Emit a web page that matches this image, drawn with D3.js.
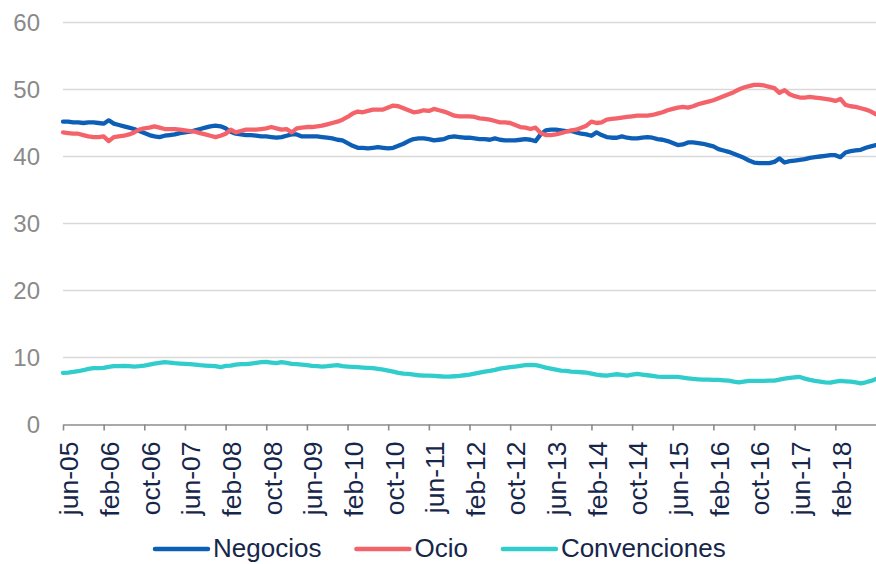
<!DOCTYPE html>
<html>
<head>
<meta charset="utf-8">
<script src="https://cdn.jsdelivr.net/npm/d3@7"></script>
<style>
  body { margin: 0; background: #fff; }
  svg { display: block; font-family: "Liberation Sans", Arial, sans-serif; }
</style>
</head>
<body>
<div id="chart"></div>
<script>
// month names used to build the category labels
var monthNames = ["ene", "feb", "mar", "abr", "may", "jun", "jul", "ago", "sep", "oct", "nov", "dic"];

// monthly categories jun-05 .. oct-18
var categories = d3.timeMonths(new Date(2005, 5, 1), new Date(2018, 10, 1)).map(function(d) {
    return monthNames[d.getMonth()] + "-" + String(d.getFullYear()).slice(2);
});

var tickLabels = ["jun-05", "feb-06", "oct-06", "jun-07", "feb-08", "oct-08", "jun-09", "feb-10",
    "oct-10", "jun-11", "feb-12", "oct-12", "jun-13", "feb-14", "oct-14", "jun-15", "feb-16",
    "oct-16", "jun-17", "feb-18"];

var yTicks = [0, 10, 20, 30, 40, 50, 60];

var negocios = [
    45.2, 45.2, 45.1, 45.1, 45.0, 45.1, 45.1, 45.0, 44.9, 45.4,
    44.9, 44.7, 44.5, 44.3, 44.1, 43.8, 43.5, 43.2, 43.0, 42.9,
    43.1, 43.2, 43.3, 43.5, 43.6, 43.7, 43.9, 44.1, 44.3, 44.5,
    44.6, 44.5, 44.2, 43.7, 43.4, 43.3, 43.2, 43.2, 43.1, 43.0,
    43.0, 42.9, 42.8, 42.9, 43.1, 43.3, 43.3, 43.0, 43.0, 43.0,
    43.0, 42.9, 42.8, 42.7, 42.5, 42.4, 42.0, 41.6, 41.3, 41.3,
    41.2, 41.3, 41.4, 41.3, 41.2, 41.3, 41.6, 41.9, 42.3, 42.6,
    42.7, 42.7, 42.6, 42.4, 42.5, 42.6, 42.9, 43.0, 42.9, 42.8,
    42.8, 42.7, 42.6, 42.6, 42.5, 42.7, 42.5, 42.4, 42.4, 42.4,
    42.5, 42.6, 42.5, 42.3, 43.3, 43.9, 44.0, 44.0, 43.9, 43.8,
    43.8, 43.6, 43.4, 43.3, 43.1, 43.6, 43.2, 42.9, 42.8, 42.8,
    43.0, 42.8, 42.7, 42.7, 42.8, 42.9, 42.8, 42.6, 42.5, 42.3,
    42.0, 41.7, 41.8, 42.1, 42.1, 42.0, 41.9, 41.7, 41.5, 41.1,
    40.9, 40.7, 40.4, 40.1, 39.8, 39.4, 39.1, 39.0, 39.0, 39.0,
    39.2, 39.7, 39.1, 39.3, 39.4, 39.5, 39.6, 39.8, 39.9, 40.0,
    40.1, 40.2, 40.2, 39.9, 40.6, 40.8, 40.9, 41.0, 41.3, 41.5,
    41.7
];

var ocio = [
    43.6, 43.5, 43.4, 43.4, 43.2, 43.0, 42.9, 42.9, 43.0, 42.3,
    42.9, 43.0, 43.1, 43.3, 43.6, 44.0, 44.2, 44.3, 44.5, 44.3,
    44.1, 44.1, 44.1, 44.0, 43.9, 43.8, 43.7, 43.5, 43.3, 43.1,
    42.9, 43.1, 43.4, 44.0, 43.6, 43.8, 44.0, 44.0, 44.0, 44.1,
    44.2, 44.4, 44.2, 44.0, 44.1, 43.6, 44.2, 44.3, 44.4, 44.4,
    44.5, 44.6, 44.8, 45.0, 45.2, 45.5, 45.9, 46.4, 46.7, 46.6,
    46.8, 47.0, 47.0, 47.0, 47.3, 47.6, 47.5, 47.2, 46.9, 46.6,
    46.7, 46.9, 46.8, 47.1, 46.9, 46.7, 46.4, 46.1, 46.0, 46.0,
    46.0, 45.9, 45.7, 45.6, 45.5, 45.3, 45.1, 45.1, 45.0, 44.7,
    44.4, 44.3, 44.1, 44.3, 43.5, 43.2, 43.2, 43.3, 43.5, 43.7,
    43.9, 44.0, 44.3, 44.6, 45.2, 45.0, 45.1, 45.5, 45.6, 45.7,
    45.8, 45.9, 46.0, 46.1, 46.1, 46.1, 46.2, 46.4, 46.6, 46.9,
    47.1, 47.3, 47.4, 47.3, 47.5, 47.8, 48.0, 48.2, 48.4, 48.7,
    49.0, 49.3, 49.6, 50.0, 50.3, 50.5, 50.7, 50.7, 50.6, 50.4,
    50.2, 49.5, 49.9, 49.3, 49.0, 48.8, 48.8, 48.9, 48.8, 48.7,
    48.6, 48.5, 48.3, 48.6, 47.7, 47.5, 47.4, 47.2, 47.0, 46.7,
    46.3
];

var convenciones = [
    7.7, 7.75, 7.85, 7.95, 8.1, 8.3, 8.4, 8.4, 8.45, 8.6,
    8.7, 8.7, 8.75, 8.7, 8.65, 8.7, 8.8, 8.95, 9.1, 9.2,
    9.3, 9.25, 9.15, 9.1, 9.05, 9.0, 8.95, 8.85, 8.8, 8.75,
    8.7, 8.55, 8.75, 8.8, 8.95, 9.0, 9.0, 9.1, 9.2, 9.3,
    9.35, 9.25, 9.15, 9.3, 9.2, 9.05, 9.0, 8.95, 8.85, 8.75,
    8.7, 8.65, 8.7, 8.8, 8.85, 8.7, 8.65, 8.6, 8.55, 8.5,
    8.45, 8.4, 8.3, 8.2, 8.05, 7.9, 7.7, 7.6, 7.55, 7.45,
    7.35, 7.3, 7.3, 7.25, 7.2, 7.15, 7.15, 7.2, 7.25, 7.35,
    7.45, 7.6, 7.75, 7.9, 8.0, 8.15, 8.35, 8.45, 8.55, 8.65,
    8.75, 8.85, 8.9, 8.85, 8.7, 8.5, 8.35, 8.2, 8.05, 8.0,
    7.9, 7.85, 7.8, 7.75, 7.6, 7.45, 7.35, 7.3, 7.4, 7.5,
    7.4, 7.3, 7.45, 7.55, 7.45, 7.35, 7.25, 7.15, 7.1, 7.1,
    7.1, 7.1, 7.0, 6.9, 6.8, 6.75, 6.7, 6.7, 6.65, 6.65,
    6.6, 6.55, 6.4, 6.3, 6.4, 6.5, 6.5, 6.5, 6.5, 6.55,
    6.55, 6.7, 6.85, 6.95, 7.05, 7.1, 6.85, 6.65, 6.5, 6.4,
    6.3, 6.25, 6.4, 6.5, 6.45, 6.4, 6.3, 6.15, 6.3, 6.5,
    6.8
];

var seriesNames = ["Negocios", "Ocio", "Convenciones"];
var seriesColors = ["#0d5eb6", "#f4636a", "#31cdcd"];

function draw_chart() {
    var width = 876, height = 564;
    var margin = {top: 22.5, right: 0, bottom: 140, left: 63};

    var svg = d3.select("#chart").append("svg")
        .attr("width", width)
        .attr("height", height);

    var x = d3.scalePoint()
        .domain(categories)
        .range([margin.left, width - margin.right]);

    var y = d3.scaleLinear()
        .domain([0, 60])
        .range([height - margin.bottom + 0.5, margin.top]);

    // horizontal grid lines
    svg.append("g")
        .selectAll("line")
        .data(yTicks.filter(function(t) { return t > 0; }))
        .enter().append("line")
        .attr("x1", margin.left)
        .attr("x2", width - margin.right)
        .attr("y1", function(d) { return y(d); })
        .attr("y2", function(d) { return y(d); })
        .attr("stroke", "#d9d9d9")
        .attr("stroke-width", 1.3);

    // y labels
    svg.append("g")
        .selectAll("text")
        .data(yTicks)
        .enter().append("text")
        .attr("x", 40)
        .attr("y", function(d) { return y(d); })
        .attr("dy", "0.36em")
        .attr("text-anchor", "end")
        .attr("fill", "#8a8a8a")
        .style("font-size", "24px")
        .text(function(d) { return d; });

    // x axis
    var xAxis = d3.axisBottom(x)
        .tickValues(tickLabels)
        .tickSize(6)
        .tickSizeOuter(0);

    var gx = svg.append("g")
        .attr("transform", "translate(0," + y(0) + ")")
        .call(xAxis);

    gx.select(".domain").attr("stroke", "#8c8c8c").attr("stroke-width", 1.6);
    gx.selectAll(".tick line").attr("stroke", "#8c8c8c").attr("stroke-width", 1.6);
    gx.selectAll(".tick text")
        .attr("fill", "#16264a")
        .style("font-size", "26.5px")
        .style("font-family", "'Liberation Sans', Arial, sans-serif")
        .attr("text-anchor", "end")
        .attr("transform", "rotate(-90)")
        .attr("x", -17)
        .attr("y", 0)
        .attr("dy", "0.56em");

    // lines
    var line = d3.line()
        .x(function(d, i) { return x(categories[i]); })
        .y(function(d) { return y(d); });

    var allSeries = [negocios, ocio, convenciones];
    svg.append("g")
        .selectAll("path")
        .data(allSeries)
        .enter().append("path")
        .attr("d", line)
        .attr("fill", "none")
        .attr("stroke", function(d, i) { return seriesColors[i]; })
        .attr("stroke-width", 4.3)
        .attr("stroke-linejoin", "round")
        .attr("stroke-linecap", "round");

    // legend
    var legend = svg.append("g").attr("transform", "translate(0,548)");
    var lx = 155;
    seriesNames.forEach(function(name, i) {
        legend.append("line")
            .attr("x1", lx).attr("x2", lx + 53)
            .attr("y1", 1).attr("y2", 1)
            .attr("stroke", seriesColors[i])
            .attr("stroke-width", 4.5)
            .attr("stroke-linecap", "round");
        var t = legend.append("text")
            .attr("x", lx + 58)
            .attr("y", 0)
            .attr("dy", "0.36em")
            .attr("fill", "#16264a")
            .style("font-size", "26px")
            .text(name);
        lx = lx + 58 + t.node().getComputedTextLength() + 35;
    });
}

draw_chart();
</script>
</body>
</html>
